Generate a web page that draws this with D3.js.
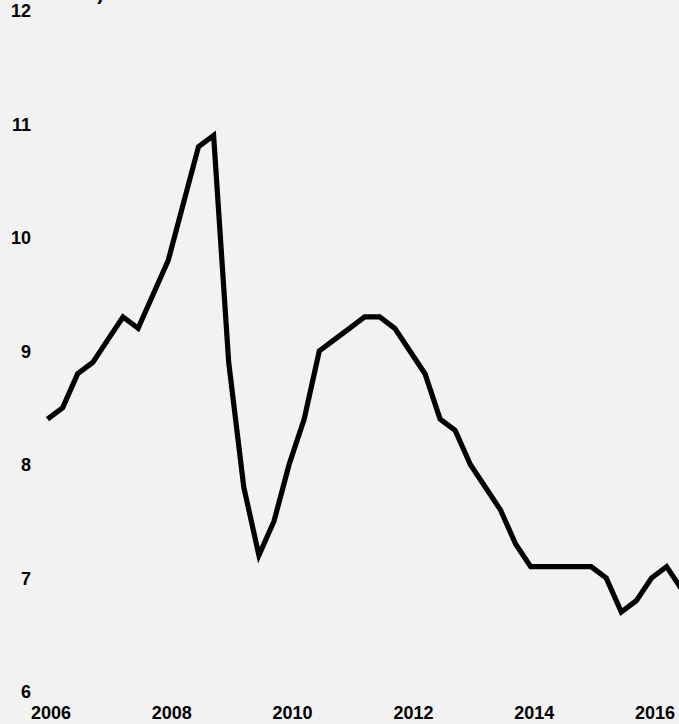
<!DOCTYPE html>
<html>
<head>
<meta charset="utf-8">
<script src="https://cdn.jsdelivr.net/npm/d3@7"></script>
<style>
  html, body { margin: 0; padding: 0; background: #f2f2f2; }
  svg { display: block; }
  text { font-family: "Liberation Sans", Arial, sans-serif; font-weight: bold; fill: #000; }
</style>
</head>
<body>
<script>
// Quarterly values starting 2006 Q1
const startYear = 2006;
const values = [
  8.4, 8.5, 8.8, 8.9,
  9.1, 9.3, 9.2, 9.5,
  9.8, 10.3, 10.8, 10.9,
  8.9, 7.8, 7.2, 7.5,
  8.0, 8.4, 9.0, 9.1,
  9.2, 9.3, 9.3, 9.2,
  9.0, 8.8, 8.4, 8.3,
  8.0, 7.8, 7.6, 7.3,
  7.1, 7.1, 7.1, 7.1,
  7.1, 7.0, 6.7, 6.8,
  7.0, 7.1, 6.9
];
const yTicks = [6, 7, 8, 9, 10, 11, 12];
const xTicks = [2006, 2008, 2010, 2012, 2014, 2016];
const unitLabel = "%)";

const W = 679, H = 724;
const data = values.map((v, i) => ({ t: startYear + i / 4, v }));

const svg = d3.select("body").append("svg").attr("width", W).attr("height", H);
svg.append("rect").attr("width", W).attr("height", H).attr("fill", "#f2f2f2");

const x = d3.scaleLinear().domain([2006, 2016]).range([47.5, 651.5]);
const y = d3.scaleLinear().domain([6, 12]).range([691.5, 10.5]);

// Y axis (labels only)
const yAxis = d3.axisLeft(y).tickValues(yTicks).tickFormat(d3.format("d")).tickSize(0).tickPadding(0);
const gy = svg.append("g").attr("transform", "translate(31,0)").call(yAxis);
gy.select(".domain").remove();
gy.selectAll("text").attr("font-size", 18).attr("dy", "0.36em")
  .style("font-family", '"Liberation Sans", Arial, sans-serif').style("font-weight", "bold");

// X axis (labels only)
const xAxis = d3.axisBottom(x).tickValues(xTicks).tickFormat(d3.format("d")).tickSize(0).tickPadding(0);
const gx = svg.append("g").attr("transform", "translate(3,719)").call(xAxis);
gx.select(".domain").remove();
gx.selectAll("text").attr("font-size", 18).attr("dy", 0).attr("y", 0)
  .style("font-family", '"Liberation Sans", Arial, sans-serif').style("font-weight", "bold");

// clipped unit label at top (only the tail shows, as in the reference)
svg.append("text").attr("x", 104).attr("y", 0).attr("text-anchor", "end")
  .attr("font-size", 20).text(unitLabel);

// line
const line = d3.line().x(d => x(d.t)).y(d => y(d.v));
svg.append("path").datum(data)
  .attr("fill", "none").attr("stroke", "#000").attr("stroke-width", 5.2)
  .attr("stroke-linejoin", "miter").attr("stroke-linecap", "butt")
  .attr("d", line);
</script>
</body>
</html>
